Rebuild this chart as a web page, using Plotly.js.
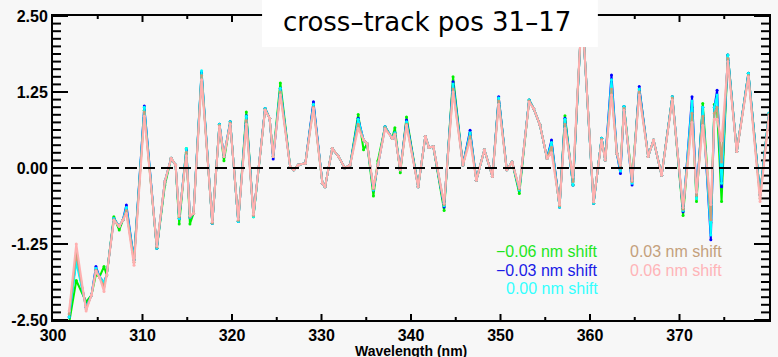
<!DOCTYPE html>
<html>
<head>
<meta charset="utf-8">
<script src="https://cdn.plot.ly/plotly-3.0.1.min.js"></script>
<style>html,body{margin:0;padding:0;background:#f7f7f7;}#chart{width:778px;height:357px;}</style>
</head>
<body>
<div id="chart"></div>
<script>
// Wavelength (nm)
const wavelength = [301.8,302.6,303.7,304.3,304.8,305.2,305.7,306.0,306.8,307.4,
307.8,308.2,309.05,310.2,311.6,312.5,313.2,313.7,314.1,314.9,
315.3,315.7,316.6,317.8,318.6,319.1,319.8,320.7,321.6,322.4,
323.7,324.2,324.6,325.4,326.5,326.9,327.4,328.2,329.1,330.1,
330.4,331.2,331.9,332.6,333.2,334.1,334.7,335.1,335.8,336.3,
337.1,337.9,338.2,338.8,339.5,340.8,341.6,342.0,342.5,343.7,
344.7,345.8,346.6,347.3,348.2,349.1,349.8,350.7,351.3,352.1,
353.2,353.7,354.4,355.2,355.7,356.6,357.2,358.1,359.1,360.4,
361.3,361.7,362.4,363.0,363.4,363.8,364.7,365.5,366.5,367.1,
368.0,369.2,370.4,371.4,371.9,372.6,373.5,373.9,374.2,374.7,
375.4,376.4,377.7,379.0,380.0];

const shiftM006 = [-2.55,-1.85,-2.20,-2.09,-1.75,-1.79,-1.62,-1.76,-0.80,-1.02,
-0.86,-0.70,-1.51,0.95,-1.32,-0.28,0.16,0.05,-0.92,0.32,
-0.92,-0.75,1.55,-0.91,0.72,0.12,0.76,-0.88,0.92,-0.80,
0.98,0.82,0.19,1.40,0.02,-0.03,0.05,0.08,1.05,-0.25,
-0.31,0.32,0.19,0.00,0.05,0.88,0.30,0.40,-0.46,0.12,
0.68,0.49,0.66,-0.08,0.84,-0.31,0.52,0.34,0.35,-0.70,
1.50,0.05,0.58,-0.20,0.30,-0.14,1.15,-0.03,0.10,-0.42,
1.12,0.98,0.71,0.16,0.42,-0.64,0.86,-0.28,2.60,-0.58,
0.49,0.13,1.35,0.24,0.00,1.01,-0.20,1.30,0.19,0.46,
-0.12,1.17,-0.78,1.00,-0.55,1.06,-0.90,1.05,0.95,-0.55,
1.86,0.27,1.56,-0.44,0.90];

const shiftM003 = [-2.45,-1.48,-2.29,-2.09,-1.62,-1.79,-1.88,-1.76,-0.83,-0.96,
-0.86,-0.61,-1.51,1.02,-1.32,-0.22,0.16,0.05,-0.83,0.30,
-0.81,-0.75,1.58,-0.91,0.72,0.19,0.76,-0.88,0.86,-0.78,
0.98,0.82,0.15,1.31,0.02,-0.03,0.05,0.08,1.09,-0.25,
-0.31,0.32,0.19,0.00,0.05,0.82,0.46,0.40,-0.36,0.05,
0.68,0.49,0.58,-0.03,0.79,-0.31,0.52,0.34,0.35,-0.64,
1.42,0.05,0.62,-0.20,0.30,-0.14,1.17,-0.03,0.10,-0.36,
1.12,0.98,0.71,0.16,0.46,-0.64,0.82,-0.28,2.60,-0.58,
0.49,0.13,1.53,0.24,-0.09,1.01,-0.28,1.34,0.19,0.46,
-0.12,1.17,-0.72,1.17,-0.45,1.00,-1.18,1.00,1.28,-0.31,
1.86,0.27,1.56,-0.44,0.90];

const shift000 = [-2.45,-1.55,-2.29,-2.09,-1.65,-1.79,-1.88,-1.76,-0.83,-0.96,
-0.86,-0.65,-1.51,1.00,-1.32,-0.22,0.16,0.05,-0.83,0.32,
-0.81,-0.75,1.60,-0.91,0.72,0.19,0.76,-0.88,0.85,-0.80,
0.98,0.82,0.19,1.31,0.02,-0.03,0.05,0.08,1.05,-0.25,
-0.31,0.32,0.19,0.00,0.05,0.80,0.46,0.40,-0.36,0.05,
0.68,0.49,0.58,-0.03,0.76,-0.31,0.52,0.34,0.35,-0.62,
1.38,0.05,0.58,-0.20,0.30,-0.14,1.15,-0.03,0.10,-0.36,
1.12,0.98,0.71,0.16,0.42,-0.64,0.80,-0.28,2.60,-0.58,
0.49,0.13,1.45,0.24,-0.05,1.01,-0.25,1.30,0.19,0.46,
-0.12,1.17,-0.70,1.10,-0.50,1.00,-1.10,1.00,1.20,-0.25,
1.86,0.27,1.56,-0.44,0.90];

const shiftP003 = [-2.40,-1.40,-2.32,-2.09,-1.68,-1.80,-1.95,-1.76,-0.85,-0.96,
-0.86,-0.70,-1.55,0.92,-1.30,-0.22,0.16,0.05,-0.80,0.26,
-0.80,-0.75,1.52,-0.90,0.70,0.19,0.74,-0.86,0.78,-0.78,
0.96,0.82,0.19,1.25,0.02,-0.03,0.05,0.08,1.00,-0.25,
-0.31,0.32,0.19,0.00,0.05,0.72,0.46,0.40,-0.34,0.05,
0.66,0.49,0.56,-0.03,0.72,-0.31,0.52,0.34,0.35,-0.60,
1.30,0.05,0.52,-0.20,0.30,-0.14,1.10,-0.03,0.10,-0.34,
1.10,0.98,0.71,0.16,0.34,-0.62,0.72,-0.22,2.60,-0.56,
0.47,0.13,1.30,0.24,0.00,0.98,-0.22,1.25,0.19,0.46,
-0.12,1.15,-0.68,0.90,-0.45,0.85,-0.85,0.90,1.00,0.10,
1.80,0.27,1.52,-0.50,0.88];

const shiftP006 = [-2.35,-1.25,-2.35,-2.09,-1.70,-1.80,-2.03,-1.76,-0.86,-0.96,
-0.86,-0.75,-1.60,0.85,-1.28,-0.22,0.16,0.05,-0.78,0.20,
-0.78,-0.75,1.45,-0.88,0.68,0.19,0.72,-0.84,0.72,-0.76,
0.95,0.82,0.19,1.20,0.02,-0.03,0.05,0.08,0.98,-0.25,
-0.31,0.32,0.19,0.00,0.05,0.65,0.46,0.40,-0.32,0.05,
0.64,0.49,0.55,-0.03,0.70,-0.31,0.52,0.34,0.35,-0.58,
1.25,0.05,0.45,-0.20,0.30,-0.14,1.05,-0.03,0.10,-0.32,
1.08,0.98,0.71,0.16,0.25,-0.60,0.65,-0.15,2.60,-0.55,
0.45,0.13,1.20,0.24,0.05,0.95,-0.20,1.20,0.19,0.46,
-0.12,1.12,-0.65,0.75,-0.40,0.70,-0.60,0.80,0.80,0.45,
1.75,0.27,1.50,-0.55,0.85];

const seriesNames = ['\u22120.06 nm shift','\u22120.03 nm shift','0.00 nm shift','0.03 nm shift','0.06 nm shift'];
const seriesColors = ['#00f000','#0000ff','#00ffff','#c8a07a','#ffb0b0'];
const seriesValues = [shiftM006, shiftM003, shift000, shiftP003, shiftP006];

const yTickVals = [-2.5,-1.25,0,1.25,2.5];
const yTickText = ['-2.50','-1.25','0.00','1.25','2.50'];
const xTickVals = [300,310,320,330,340,350,360,370,380];
const xMinorVals = [305,315,325,335,345,355,365,375];
const yMinorVals = [];
for (let k = -19; k <= 19; k++) { if (k % 10 !== 0) yMinorVals.push(k * 0.125); }

// axis tick marks as one line trace built from the tick lists (lengths in axis units)
const X0 = 300, X1 = 380, Y0 = -2.5, Y1 = 2.5;
const pxPerX = 716 / (X1 - X0), pxPerY = 304 / (Y1 - Y0);
const tkX = [], tkY = [];
function yTick(v, lenPx) {
  const L = lenPx / pxPerX;
  tkX.push(X0, X0 + L, null, X1 - L, X1, null);
  tkY.push(v, v, null, v, v, null);
}
function xTick(v, lenPx) {
  const L = lenPx / pxPerY;
  tkX.push(v, v, null, v, v, null);
  tkY.push(Y0, Y0 + L, null, Y1 - L, Y1, null);
}
yTickVals.forEach(v=>yTick(v, 15));
yMinorVals.forEach(v=>yTick(v, 8));
xTickVals.slice(1, -1).forEach(v=>xTick(v, 6));
xMinorVals.forEach(v=>xTick(v, 3));

const traces = [{x:tkX, y:tkY, type:'scatter', mode:'lines', showlegend:false, hoverinfo:'skip',
  connectgaps:false, line:{color:'#000', width:2}}];
seriesValues.forEach((v,i)=>traces.push({
  x: wavelength, y: v, type:'scatter', mode:'lines+markers',
  name: seriesNames[i], showlegend:false,
  line:{color:seriesColors[i], width:2},
  marker:{color:seriesColors[i], size:3}
}));

// legend as in-plot text
const legendPos = [
  {x:0.764, y:0.224, anchor:'right'},
  {x:0.764, y:0.164, anchor:'right'},
  {x:0.764, y:0.102, anchor:'right'},
  {x:0.803, y:0.224, anchor:'left'},
  {x:0.803, y:0.164, anchor:'left'}
];
const legendColors = ['#1ee61e','#1a1ae6','#33ffff','#c4a07c','#ffb4b8'];
const annotations = seriesNames.map((n,i)=>({
  xref:'paper', yref:'paper', x:legendPos[i].x, y:legendPos[i].y,
  xanchor:legendPos[i].anchor, yanchor:'middle', showarrow:false, text:n,
  font:{family:'Liberation Sans, Arial, sans-serif', size:16, color:legendColors[i]}
}));
annotations.push({
  xref:'paper', yref:'paper', x:0.5, y:-0.102, xanchor:'center', yanchor:'middle', showarrow:false,
  text:'Wavelength (nm)',
  font:{family:'Liberation Sans, Arial, sans-serif', size:14, color:'#000', weight:'bold'}
});

const shapes = [
  {type:'line', xref:'x', yref:'y', x0:300, x1:380, y0:0, y1:0, layer:'above',
   line:{color:'#000', width:2, dash:'12px,6px'}},
  {type:'rect', xref:'paper', yref:'paper', x0:0.292, x1:0.761, y0:0.898, y1:1.06, layer:'above',
   fillcolor:'#ffffff', line:{width:0}}
];

const axisBase = {showline:true, linewidth:2, linecolor:'#000', mirror:true, showgrid:false, zeroline:false, ticks:''};

const layout = {
  width:778, height:357,
  margin:{l:53, r:9, t:16, b:37, pad:0},
  paper_bgcolor:'#f7f7f7', plot_bgcolor:'#f7f7f7',
  title:{text:'cross\u2013track pos 31\u201317', x:0.549, y:0.938, xref:'container', yref:'container',
    xanchor:'center', yanchor:'middle',
    font:{family:'DejaVu Sans, sans-serif', size:26, color:'#000'}},
  xaxis:Object.assign({}, axisBase, {range:[X0,X1], tickvals:xTickVals,
    tickfont:{family:'Liberation Sans, Arial, sans-serif', size:16, color:'#000', weight:'bold'}}),
  yaxis:Object.assign({}, axisBase, {range:[Y0,Y1], tickvals:yTickVals, ticktext:yTickText,
    tickfont:{family:'Liberation Sans, Arial, sans-serif', size:16, color:'#000', weight:'bold'}}),
  shapes: shapes,
  annotations: annotations
};

Plotly.newPlot('chart', traces, layout, {displayModeBar:false});
</script>
</body>
</html>
